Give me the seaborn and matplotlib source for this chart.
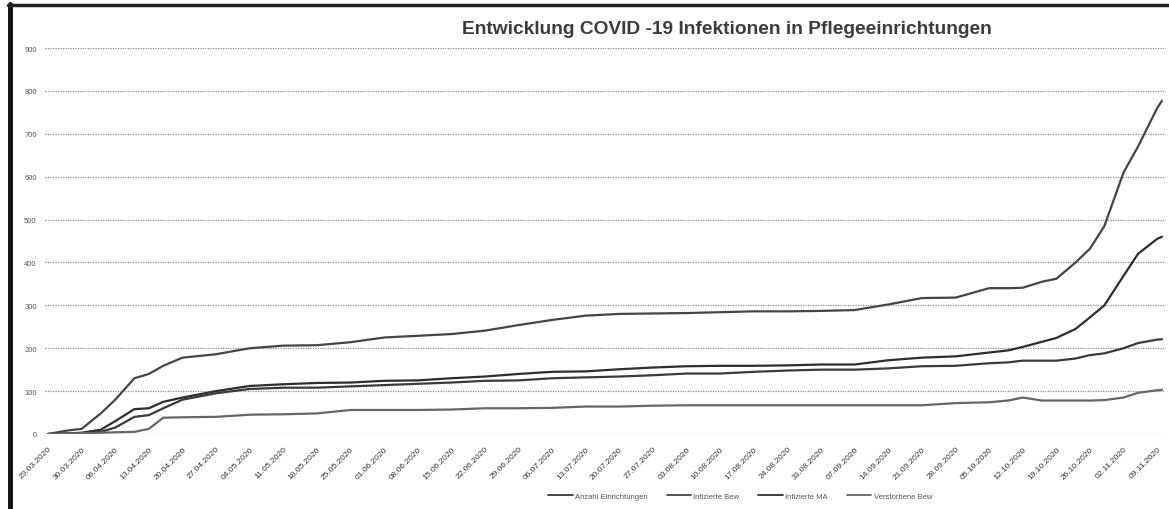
import matplotlib
matplotlib.use("Agg")
import matplotlib.pyplot as plt
import matplotlib.dates as mdates
from matplotlib.lines import Line2D
import pandas as pd
import seaborn as sns

# Stichtage der Meldungen (2020)
dates = [
    "23.03", "27.03", "30.03", "03.04", "06.04", "10.04", "13.04", "16.04",
    "20.04", "27.04", "04.05", "11.05", "18.05", "25.05", "01.06", "08.06",
    "15.06", "22.06", "29.06", "06.07", "13.07", "20.07", "27.07", "03.08",
    "10.08", "17.08", "24.08", "31.08", "07.09", "14.09", "21.09", "28.09",
    "05.10", "09.10", "12.10", "16.10", "19.10", "23.10", "26.10", "29.10",
    "02.11", "05.11", "09.11", "10.11",
]

anzahl_einrichtungen = [
    0, 1, 2, 5, 15, 40, 44, 60, 80, 95, 105, 108, 108, 111, 114, 117,
    120, 124, 125, 130, 132, 134, 137, 141, 141, 145, 148, 150, 150, 153, 158, 159,
    165, 167, 171, 171, 171, 176, 184, 188, 200, 212, 220, 221,
]
infizierte_bew = [
    0, 8, 12, 48, 80, 130, 140, 159, 178, 186, 200, 206, 207, 214, 225, 229,
    233, 241, 254, 266, 276, 280, 281, 282, 284, 286, 286, 287, 289, 302, 317, 318,
    340, 340, 341, 355, 362, 400, 432, 485, 610, 670, 760, 777,
]
infizierte_ma = [
    0, 1, 3, 10, 30, 58, 60, 75, 85, 100, 112, 116, 119, 120, 124, 125,
    130, 134, 140, 145, 146, 151, 155, 158, 159, 159, 160, 162, 162, 172, 178, 181,
    190, 195, 203, 215, 224, 245, 272, 300, 369, 420, 455, 460,
]
verstorbene_bew = [
    0, 1, 2, 3, 4, 5, 12, 38, 39, 40, 45, 46, 48, 56, 56, 56,
    57, 60, 60, 61, 64, 64, 66, 67, 67, 67, 67, 67, 67, 67, 67, 72,
    74, 78, 85, 78, 78, 78, 78, 79, 85, 96, 102, 103,
]

series_names = ["Anzahl Einrichtungen", "Infizierte Bew", "Infizierte MA", "Verstorbene Bew"]
series_values = [anzahl_einrichtungen, infizierte_bew, infizierte_ma, verstorbene_bew]
series_colors = ["#3a3a3a", "#454545", "#2e2e2e", "#666666"]

y_ticks = [0, 100, 200, 300, 400, 500, 600, 700, 800, 900]
title = "Entwicklung COVID -19 Infektionen in Pflegeeinrichtungen"

date_index = pd.to_datetime([d + ".2020" for d in dates], format="%d.%m.%Y")
frames = []
for name, vals in zip(series_names, series_values):
    frames.append(pd.DataFrame({"Datum": date_index, "Anzahl": vals, "Reihe": name}))
df = pd.concat(frames, ignore_index=True)

sns.set_theme(style="white")
plt.rcParams["font.family"] = ["Liberation Sans", "DejaVu Sans"]

W, H = 1169, 510
fig = plt.figure(figsize=(W / 100, H / 100), dpi=100)
fig.patch.set_facecolor("white")
ax = fig.add_axes([45 / W, 1 - 435 / H, (1165 - 45) / W, (435 - 49) / H])

sns.lineplot(
    data=df, x="Datum", y="Anzahl", hue="Reihe", hue_order=series_names,
    palette=dict(zip(series_names, series_colors)), linewidth=1.6,
    legend=False, ax=ax,
)

# Achsen
ax.set_ylim(0, 900)
ax.set_yticks(y_ticks)
ax.set_yticklabels([str(v) for v in y_ticks], fontsize=5.5, color="#555555")
start = pd.Timestamp("2020-03-23")
end = pd.Timestamp("2020-11-10")
ax.set_xlim(start - pd.Timedelta(hours=15), end + pd.Timedelta(hours=15))
ax.set_xticks(pd.date_range(start, "2020-11-09", freq="7D"))
ax.xaxis.set_major_formatter(mdates.DateFormatter("%d.%m.%Y"))
for lab in ax.get_xticklabels():
    lab.set_rotation(45)
    lab.set_ha("right")
    lab.set_rotation_mode("anchor")
    lab.set_fontsize(6)
    lab.set_color("#333333")
ax.tick_params(axis="both", length=0)
ax.tick_params(axis="x", pad=8)
ax.tick_params(axis="y", pad=6)
ax.set_xlabel("")
ax.set_ylabel("")
for s in ax.spines.values():
    s.set_visible(False)
ax.grid(axis="y", color="#8a8a8a", linestyle=(0, (1, 1)), linewidth=0.9)
ax.grid(axis="x", visible=False)
ax.set_axisbelow(True)

# Titel
fig.text(727 / W, 1 - 30 / H, title, ha="center", va="center",
         fontsize=13.8, fontweight="bold", color="#3c3c3c")

# Legende
handles = [Line2D([0], [0], color=c, linewidth=1.3) for c in series_colors]
fig.legend(handles, series_names, loc="center", bbox_to_anchor=(740 / W, 1 - 497 / H),
           ncol=4, frameon=False, fontsize=5.5, handlelength=3.2, handletextpad=0.3,
           columnspacing=2.5, labelcolor="#555555")

# Rahmen
fig.add_artist(Line2D([10 / W, 10 / W], [0, 1 - 5 / H], color="#111111", linewidth=3.5,
                      transform=fig.transFigure))
fig.add_artist(Line2D([8 / W, 1], [1 - 6 / H, 1 - 6 / H], color="#222222", linewidth=2.5,
                      transform=fig.transFigure))

fig.savefig("out.png", dpi=100, facecolor="white")
